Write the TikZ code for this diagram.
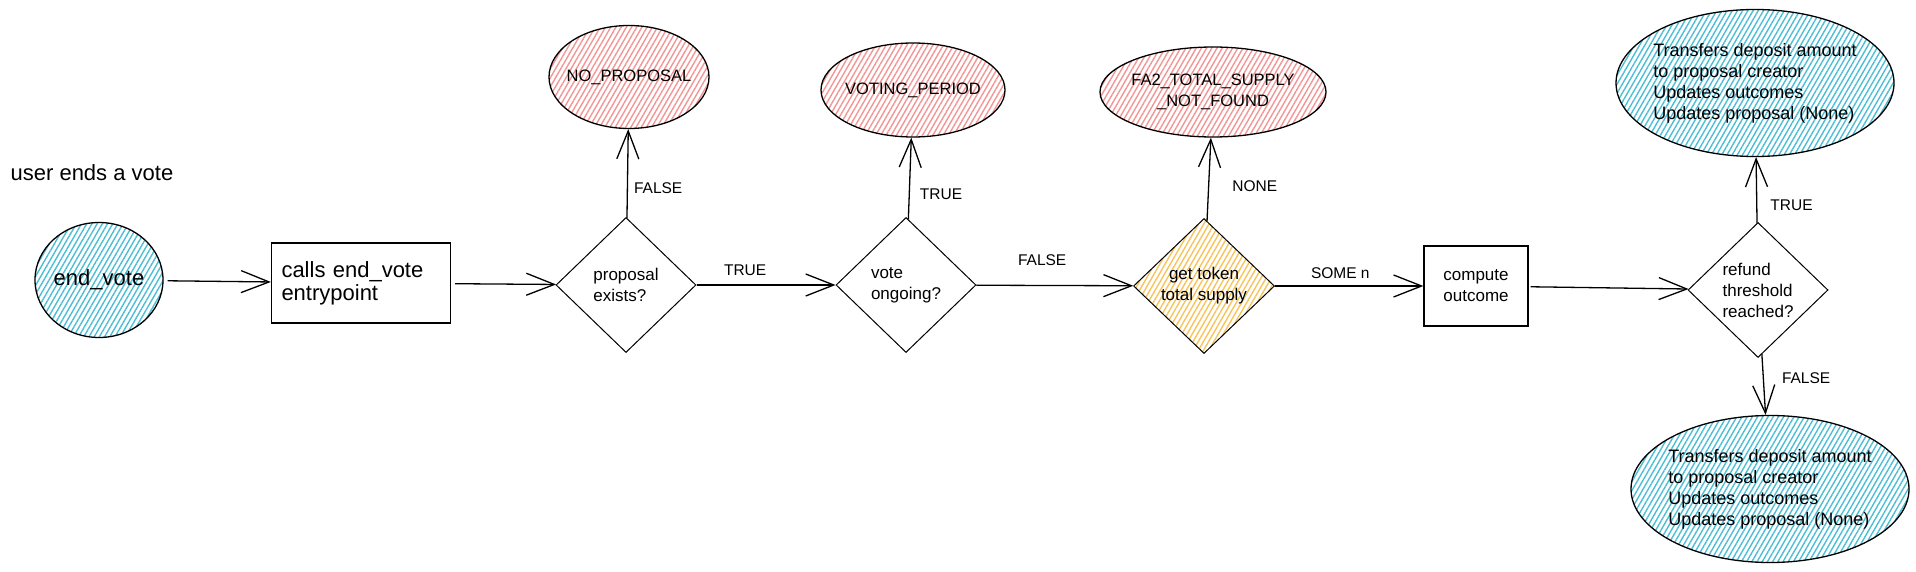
\documentclass[tikz,border=0pt]{standalone}
\usepackage{fontspec}
\setmainfont{Liberation Sans}
\usetikzlibrary{arrows.meta,shapes.geometric,patterns.meta}
\definecolor{hatchblue}{HTML}{4DBDD5}
\definecolor{hatchred}{HTML}{F29595}
\definecolor{hatchyellow}{HTML}{F7C35A}
\tikzset{
    hatch/.style={pattern={Lines[angle=60,distance=4.5pt,line width=1.4pt]},pattern color=#1},
    startnode/.style={ellipse,draw,hatch=hatchblue,minimum width=128pt,minimum height=115pt,
        inner sep=0pt,font=\fontsize{22}{24}\selectfont},
    errnode/.style={ellipse,draw,hatch=hatchred,inner xsep=-6pt,inner ysep=0pt,align=center,
        font=\fontsize{16.5}{21}\selectfont},
    donenode/.style={ellipse,draw,hatch=hatchblue,minimum width=278pt,minimum height=147pt,
        inner xsep=-6pt,inner ysep=0pt,align=left,font=\fontsize{18}{21}\selectfont},
    testnode/.style={diamond,draw,line width=1pt,minimum width=140pt,minimum height=135pt,
        inner sep=0pt,align=left,font=\fontsize{17}{21}\selectfont},
    actnode/.style={rectangle,draw,minimum height=80pt,align=center,font=\fontsize{17}{21}\selectfont},
    lbl/.style={inner sep=1pt,font=\fontsize{15.5}{18}\selectfont}
}
\begin{document}
\begin{tikzpicture}[x=1pt,y=-1pt,line width=1.3pt,>={Straight Barb[length=28pt,width=22pt]}]
        \useasboundingbox (0,0) rectangle (1916,572);
        \node[anchor=west,inner sep=0pt,font=\fontsize{22}{24}\selectfont] (title) at (10,173) {user ends a vote};
        \node[startnode] (endvote) at (99,280) {end\_vote};
        \node[actnode,align=left,text width=159pt,inner xsep=10pt,font=\fontsize{22}{23}\selectfont] (calls) at (361,283) {calls end\_vote\\entrypoint};
        \node[testnode] (exists) at (626,285) {proposal\\exists?};
        \node[errnode,minimum width=160pt,minimum height=103pt] (noprop) at (629,77) {NO\_PROPOSAL};
        \node[testnode] (ongoing) at (906,285) {vote\\ongoing?};
        \node[errnode,minimum width=184pt,minimum height=94pt] (period) at (913,90) {VOTING\_PERIOD};
        \node[testnode,align=center,minimum width=141pt,hatch=hatchyellow] (supply) at (1204,286) {get token\\total supply};
        \node[errnode,minimum width=226pt,minimum height=90pt] (notfound) at (1213,92) {FA2\_TOTAL\_SUPPLY\\\_NOT\_FOUND};
        \node[actnode,minimum width=104pt] (outcome) at (1476,286) {compute\\outcome};
        \node[testnode] (refund) at (1758,290) {refund\\threshold\\reached?};
        \node[donenode] (refunded) at (1755,83) {Transfers deposit amount\\to proposal creator\\Updates outcomes\\Updates proposal (None)};
        \node[donenode] (kept) at (1770,489) {Transfers deposit amount\\to proposal creator\\Updates outcomes\\Updates proposal (None)};
        % main flow
        \draw[->,shorten <=4pt] (endvote) -- (calls);
        \draw[->,shorten <=4pt] (calls) -- (exists);
        \draw[->] (exists) -- node[lbl,pos=0.35,above=8pt] (t1) {TRUE} (ongoing);
        \draw[->] (ongoing) -- node[lbl,pos=0.42,above=18pt] (f2) {FALSE} (supply);
        \draw[->] (supply) -- node[lbl,pos=0.44,above=6pt] (some) {SOME n} (outcome);
        \draw[->,shorten <=2pt] (outcome) -- (refund);
        % branches
        \draw[->] (exists) -- node[lbl,pos=0.34,anchor=west,xshift=5pt] (f1) {FALSE} (noprop);
        \draw[->] (ongoing) -- node[lbl,pos=0.31,anchor=west,xshift=9pt] (t2) {TRUE} (period);
        \draw[->] (supply) -- node[lbl,pos=0.42,anchor=west,xshift=22pt] (none) {NONE} (notfound);
        \draw[->] (refund) -- node[lbl,pos=0.27,anchor=west,xshift=12pt] (t3) {TRUE} (refunded);
        \draw[->] (refund) -- node[lbl,pos=0.40,anchor=west,xshift=17pt] (f3) {FALSE} (kept);
    \end{tikzpicture}
\end{document}
